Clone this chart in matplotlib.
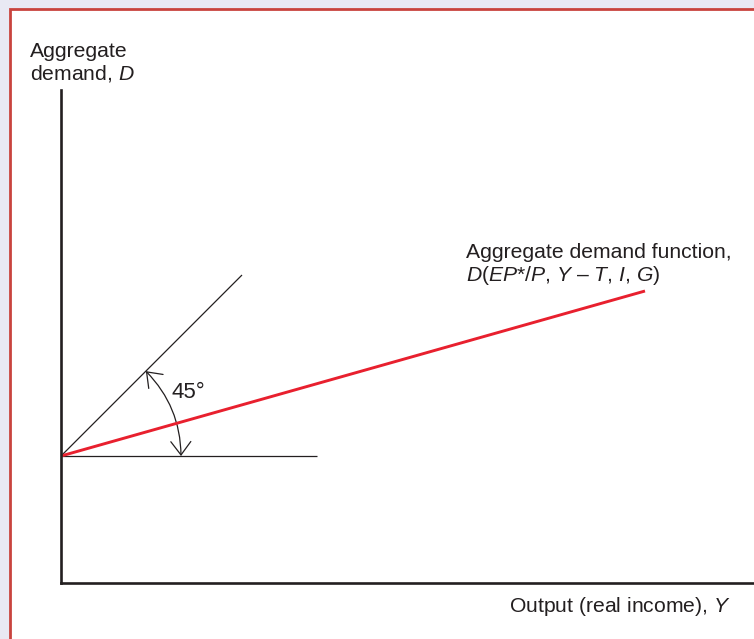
import numpy as np
import matplotlib
matplotlib.use("Agg")
import matplotlib.pyplot as plt
from matplotlib.patches import Rectangle, FancyArrowPatch

# ---- data (units: output Y and demand D, arbitrary scale) ----
intercept = 127.0            # autonomous demand (D at Y = 0)
line45_end_Y = 181.0         # extent of 45-degree reference line
horiz_end_Y = 256.0          # extent of horizontal reference line
ad_end_Y = 584.0             # extent of aggregate demand function
ad_end_D = 292.0
angle_deg = 45.0
arc_radius = 120.0

W, H = 754, 639
plt.rcParams['mathtext.fontset'] = 'custom'
plt.rcParams['mathtext.rm'] = 'Liberation Sans'
plt.rcParams['mathtext.it'] = 'Liberation Sans:italic'
plt.rcParams['font.family'] = ['Liberation Sans', 'DejaVu Sans']

fig = plt.figure(figsize=(W / 100, H / 100), dpi=100)
fig.patch.set_facecolor('#e9e9f3')

# panel frame with red border
frame = Rectangle((10 / W, -0.2), 1.5, 1.2 - 8.5 / H, transform=fig.transFigure,
                  facecolor='white', edgecolor='#c9433d', linewidth=2.0, zorder=-5)
fig.add_artist(frame)

ax_left, ax_bottom_px, ax_top_px = 61, 583, 90
ax = fig.add_axes([ax_left / W, (H - ax_bottom_px) / H, (W - ax_left) / W,
                   (ax_bottom_px - ax_top_px) / H])
ax.set_facecolor('none')
ax.set_xlim(0, W - ax_left)
ax.set_ylim(0, ax_bottom_px - ax_top_px)
for s in ['top', 'right']:
    ax.spines[s].set_visible(False)
for s in ['left', 'bottom']:
    ax.spines[s].set_linewidth(1.9)
    ax.spines[s].set_color('#231f20')
ax.set_xticks([])
ax.set_yticks([])

dark = '#231f20'
# 45-degree line
ax.plot([0, line45_end_Y], [intercept, intercept + line45_end_Y], color=dark, lw=0.9,
        solid_capstyle='butt')
# horizontal line
ax.plot([0, horiz_end_Y], [intercept, intercept], color=dark, lw=0.9, solid_capstyle='butt')
# aggregate demand function
ax.plot([0, ad_end_Y], [intercept, ad_end_D], color='#e8202e', lw=2.1, solid_capstyle='butt')

# angle arc with arrows
a = np.deg2rad(angle_deg)
posA = (arc_radius * np.cos(a), intercept + arc_radius * np.sin(a))
posB = (arc_radius, intercept)
arr = FancyArrowPatch(posA, posB, connectionstyle='arc3,rad=-0.2',
                      arrowstyle='<->,head_length=0.6,head_width=0.45',
                      mutation_scale=16, color=dark, lw=0.9, shrinkA=0, shrinkB=0)
ax.add_patch(arr)
ax.text(111, 190, '45°', fontsize=16, color=dark, ha='left', va='center')

def ftext(x, y, s, **kw):
    fig.text(x / W, 1 - y / H, s, fontsize=15.2, color=dark, **kw)

ftext(30, 57, 'Aggregate', ha='left', va='baseline')
ftext(30, 79, r'demand, $\mathit{D}$', ha='left', va='baseline')
ftext(466, 258, 'Aggregate demand function,', ha='left', va='baseline')
ftext(466, 281, r'$\mathit{D}$($\mathit{EP}$*/$\mathit{P}$, $\mathit{Y}$ – $\mathit{T}$, $\mathit{I}$, $\mathit{G}$)',
      ha='left', va='baseline')
ftext(731, 612, r'Output (real income), $\mathit{Y}$', ha='right', va='baseline')

fig.savefig('out.png', dpi=100, facecolor=fig.get_facecolor())
